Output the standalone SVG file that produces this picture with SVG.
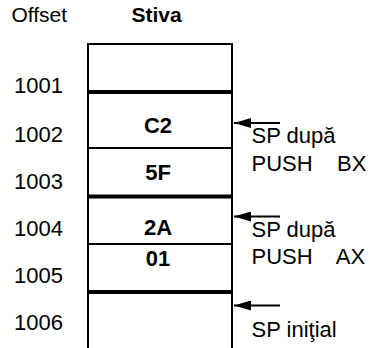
<svg xmlns="http://www.w3.org/2000/svg" width="374" height="348" viewBox="0 0 374 348">
<defs>
<style>
.t{font-family:"Liberation Sans",Arial,sans-serif;font-size:22px;fill:#000}
.h{font-family:"Liberation Sans",Arial,sans-serif;font-size:21px;fill:#000}
.b{font-family:"Liberation Sans",Arial,sans-serif;font-size:22px;font-weight:bold;fill:#000;text-anchor:middle}
.thin{stroke:#000;stroke-width:2;fill:none}
.thick{stroke:#000;stroke-width:4;fill:none}
.arr{stroke:#000;stroke-width:2;fill:none}
</style>
<marker id="ah" markerWidth="17" markerHeight="10" refX="17" refY="5" orient="auto" markerUnits="userSpaceOnUse">
<path d="M0,0 L17,5 L0,10 Z" fill="#000"/>
</marker>
</defs>
<g id="headers">
<text class="h" x="11.5" y="22">Offset</text>
<text class="h" x="131.5" y="22" style="font-weight:bold">Stiva</text>
</g>
<g id="offsets">
<text class="t" x="14" y="93">1001</text>
<text class="t" x="14" y="141.5">1002</text>
<text class="t" x="14" y="188.5">1003</text>
<text class="t" x="14" y="236">1004</text>
<text class="t" x="14" y="282.5">1005</text>
<text class="t" x="14" y="329.5">1006</text>
</g>
<g id="stack">
<path class="thin" d="M88,348 V44 H232 V348"/>
<line class="thick" x1="88" y1="92" x2="232" y2="92"/>
<line class="thin" x1="88" y1="148" x2="232" y2="148"/>
<line class="thick" x1="88" y1="196.5" x2="232" y2="196.5"/>
<line class="thin" x1="88" y1="244" x2="232" y2="244"/>
<line class="thick" x1="88" y1="292" x2="232" y2="292"/>
</g>
<g id="values">
<text class="b" x="158" y="133">C2</text>
<text class="b" x="158" y="180">5F</text>
<text class="b" x="158" y="235">2A</text>
<text class="b" x="158" y="266">01</text>
</g>
<g id="connectors">
<line class="arr" x1="280" y1="123" x2="234" y2="123" marker-end="url(#ah)"/>
<line class="arr" x1="280" y1="216.5" x2="234" y2="216.5" marker-end="url(#ah)"/>
<line class="arr" x1="280" y1="305.5" x2="234" y2="305.5" marker-end="url(#ah)"/>
</g>
<g id="sp-labels">
<text class="t" x="251.5" y="143">SP după</text>
<text class="t" x="251.5" y="171" xml:space="preserve">PUSH    BX</text>
<text class="t" x="251.5" y="237">SP după</text>
<text class="t" x="251.5" y="264" xml:space="preserve">PUSH    AX</text>
<text class="t" x="251.5" y="337">SP iniţial</text>
</g>
</svg>
